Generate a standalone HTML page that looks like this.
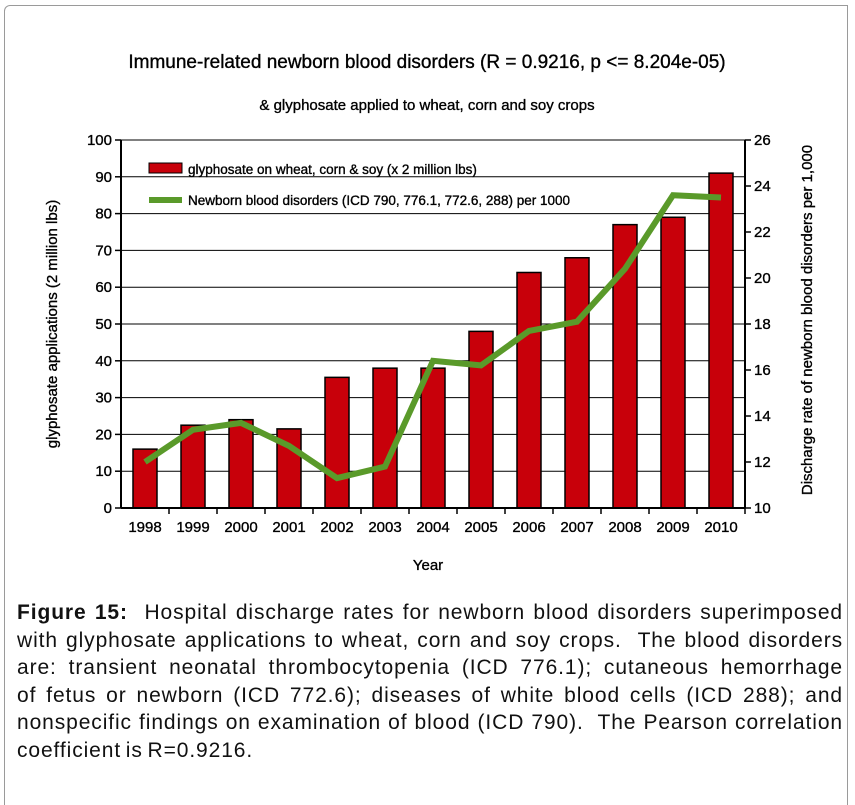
<!DOCTYPE html>
<html><head><meta charset="utf-8"><style>
body{margin:0;width:855px;height:785px;background:#fff;overflow:hidden;font-family:"Liberation Sans",Arial,sans-serif;}
#frame{position:absolute;left:4px;top:5px;width:844px;height:800px;border:1.5px solid #9a9a9a;border-bottom:none;border-top-left-radius:6px;box-sizing:border-box;}
#caption{position:absolute;left:17px;top:599px;width:826px;font-size:21px;letter-spacing:0.9px;word-spacing:-2px;line-height:27.6px;color:#111;}
#caption div{text-align:justify;text-align-last:justify;white-space:nowrap;}
#caption div.last{text-align-last:left;}
#chart text{stroke:#000;stroke-width:0.35px;}
</style></head><body>
<div id="frame"></div>
<svg id="chart" width="855" height="600" style="position:absolute;left:0;top:0">
<text x="427" y="68" text-anchor="middle" font-size="19">Immune-related newborn blood disorders (R = 0.9216, p &lt;= 8.204e-05)</text>
<text x="427" y="110" text-anchor="middle" font-size="15">&amp; glyphosate applied to wheat, corn and soy crops</text>
<g id="grid"></g><g id="bars"></g><g id="axes"></g><g id="line"></g>
<text x="428" y="570" text-anchor="middle" font-size="15">Year</text>
<text transform="translate(57,324) rotate(-90)" text-anchor="middle" font-size="15">glyphosate applications (2 million lbs)</text>
<text transform="translate(812,320) rotate(-90)" text-anchor="middle" font-size="15">Discharge rate of newborn blood disorders per 1,000</text>
<g>
<rect x="149" y="163" width="33" height="10" fill="#c8000a" stroke="#000" stroke-width="1"/>
<text x="188" y="174" font-size="13.5">glyphosate on wheat, corn &amp; soy (x 2 million lbs)</text>
<rect x="149" y="197" width="33" height="6" fill="#5a9a2a"/>
<text x="188" y="205" font-size="13.5">Newborn blood disorders (ICD 790, 776.1, 772.6, 288) per 1000</text>
</g>
</svg>
<div id="caption">
<div><b>Figure 15:</b>&nbsp; Hospital discharge rates for newborn blood disorders superimposed</div>
<div>with glyphosate applications to wheat, corn and soy crops.&nbsp; The blood disorders</div>
<div>are: transient neonatal thrombocytopenia (ICD 776.1); cutaneous hemorrhage</div>
<div>of fetus or newborn (ICD 772.6); diseases of white blood cells (ICD 288); and</div>
<div>nonspecific findings on examination of blood (ICD 790).&nbsp; The Pearson correlation</div>
<div class="last">coefficient is R=0.9216.</div>
</div>
<script>
const years=["1998","1999","2000","2001","2002","2003","2004","2005","2006","2007","2008","2009","2010"];
const glyphosate=[16,22.5,24,21.5,35.5,38,38,48,64,68,77,79,91];
const disorders=[12,13.4,13.7,12.7,11.3,11.8,16.4,16.2,17.7,18.1,20.4,23.6,23.5];
const leftTicks=[0,10,20,30,40,50,60,70,80,90,100];
const rightTicks=[10,12,14,16,18,20,22,24,26];
const NS="http://www.w3.org/2000/svg";
const X0=121,X1=745,Y0=508,Y1=140;
const bw=(X1-X0)/years.length;
const yL=v=>Y0-(v/100)*(Y0-Y1);
const yR=v=>Y0-((v-10)/16)*(Y0-Y1);
const xC=i=>X0+bw*(i+0.5);
function mk(t,a,p){const e=document.createElementNS(NS,t);for(const k in a)e.setAttribute(k,a[k]);p.appendChild(e);return e;}
const grid=document.getElementById('grid'),bars=document.getElementById('bars'),axes=document.getElementById('axes'),line=document.getElementById('line');
leftTicks.forEach(v=>{
  const g=mk('line',{x1:X0,x2:X1,y1:yL(v),y2:yL(v),stroke:'#000','stroke-width':1},grid);
  
  
  mk('line',{x1:X0-6,x2:X0,y1:yL(v),y2:yL(v),stroke:'#000','stroke-width':1.5},axes);
  const t=mk('text',{x:X0-9,y:yL(v)+5,'text-anchor':'end','font-size':15},axes);t.textContent=v;
  
  
});
rightTicks.forEach(v=>{
  mk('line',{x1:X1,x2:X1+6,y1:yR(v),y2:yR(v),stroke:'#000','stroke-width':1.5},axes);
  const t=mk('text',{x:X1+9,y:yR(v)+5,'font-size':15},axes);t.textContent=v;
  
  
});
mk('line',{x1:X0,x2:X0,y1:Y1,y2:Y0,stroke:'#000','stroke-width':2},axes);
mk('line',{x1:X1,x2:X1,y1:Y1,y2:Y0,stroke:'#000','stroke-width':2},axes);
mk('line',{x1:X0,x2:X1,y1:Y0,y2:Y0,stroke:'#000','stroke-width':2},axes);
years.forEach((y,i)=>{
  mk('line',{x1:X0+bw*(i+1),x2:X0+bw*(i+1),y1:Y0,y2:Y0+6,stroke:'#000','stroke-width':1.5},axes);
  const t=mk('text',{x:xC(i),y:Y0+24,'text-anchor':'middle','font-size':15},axes);t.textContent=y;
  
  
  const b=mk('rect',{x:xC(i)-12,y:yL(glyphosate[i]),width:24,height:Y0-yL(glyphosate[i]),fill:'#c8000a',stroke:'#000','stroke-width':1.5},bars);
  
  
});
const pl=mk('polyline',{points:disorders.map((v,i)=>xC(i)+','+yR(v)).join(' '),fill:'none',stroke:'#5a9a2a','stroke-width':6,'stroke-linejoin':'miter'},line);


</script>
</body></html>
